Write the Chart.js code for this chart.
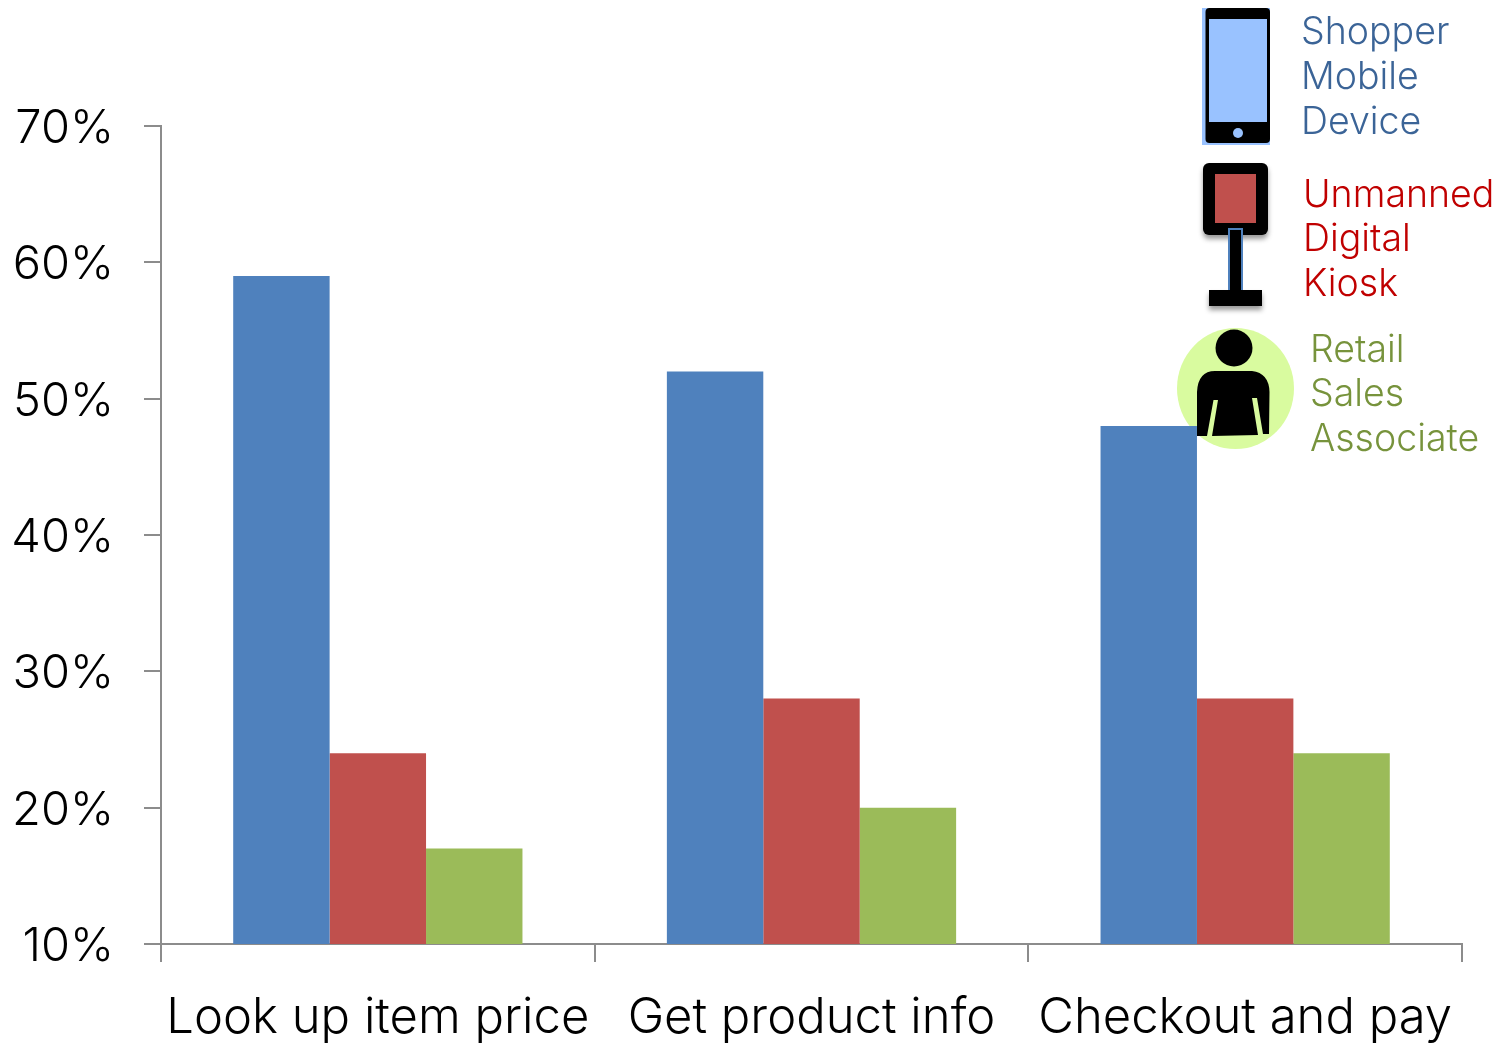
<!DOCTYPE html>
<html>
<head>
<meta charset="utf-8">
<title>Retail tasks</title>
<script src="https://cdn.jsdelivr.net/npm/chart.js@4"></script>
<style>
	html, body { margin: 0; padding: 0; background: #fff; overflow: hidden; }
	#wrap { position: relative; width: 1502px; height: 1043px; }
	#wrap svg, #wrap canvas { position: absolute; left: 0; top: 0; }
	#back { z-index: 1; }
	#chart { z-index: 2; }
	#front { z-index: 3; }
	text { font-family: Inter, sans-serif; font-size: 37.5px; font-weight: 350; }
</style>
</head>
<body>
<div id="wrap">
	<svg id="back" width="1502" height="1043">
		<ellipse cx="1235.5" cy="388.5" rx="58.5" ry="60.5" fill="#d9fb9f"/>
		<circle cx="1234" cy="348" r="18.5" fill="#000"/>
		<path d="M1197 392 Q1198 371 1215 371 L1252 371 Q1269 373 1269.5 392 L1269 434 L1263 434 L1257 398 L1252 398 L1258 435 L1212 436 L1218 400 L1213.5 400 L1207 436 L1197 436 Z" fill="#000"/>
	</svg>
	<canvas id="chart" width="1502" height="1043"></canvas>
	<svg id="front" width="1502" height="1043">
		<defs>
			<filter id="shadow" x="-20%" y="-20%" width="140%" height="140%">
				<feDropShadow dx="0" dy="4" stdDeviation="2.5" flood-color="#000" flood-opacity="0.4"/>
			</filter>
		</defs>
		<rect x="1202" y="8" width="68" height="137" fill="#99c2ff"/>
		<rect x="1205.5" y="8" width="64.5" height="135" rx="4" fill="#000"/>
		<rect x="1209" y="19" width="58" height="103" fill="#99c2ff"/>
		<circle cx="1238" cy="133" r="5" fill="#99c2ff"/>
		<g filter="url(#shadow)">
			<rect x="1203" y="163" width="65" height="72" rx="6" fill="#000"/>
			<rect x="1209" y="290" width="53" height="16" fill="#000"/>
		</g>
		<rect x="1215" y="174" width="41" height="49" fill="#c0504d"/>
		<rect x="1229" y="229" width="13" height="62" fill="#000" stroke="#4f81bd" stroke-width="2"/>
		<rect x="1209" y="290" width="53" height="16" fill="#000"/>
		<g id="legendText"></g>
	</svg>
</div>
<script>
const categories = ['Look up item price', 'Get product info', 'Checkout and pay'];
const seriesNames = ['Shopper Mobile Device', 'Unmanned Digital Kiosk', 'Retail Sales Associate'];
const mobileValues = [59, 52, 48];
const kioskValues = [24, 28, 28];
const associateValues = [17, 20, 24];
const seriesColors = ['#4f81bd', '#c0504d', '#9bbb59'];
const legendColors = ['#3b6497', '#c00000', '#77933c'];
const legendLeft = [1301, 1303, 1310];
const legendBaselines = [[44, 89, 134], [207, 251, 296], [362, 406, 451]];

const AXIS_COLOR = '#8c8c8c';

// legend is three stacked words next to each icon, not a chart.js legend
const legendGroup = document.getElementById('legendText');
seriesNames.forEach((name, key) => {
	name.split(' ').forEach((word, line) => {
		const el = document.createElementNS('http://www.w3.org/2000/svg', 'text');
		el.setAttribute('x', legendLeft[key]);
		el.setAttribute('y', legendBaselines[key][line]);
		el.setAttribute('fill', legendColors[key]);
		el.textContent = word;
		legendGroup.appendChild(el);
	});
});

// inter sits a bit high on the middle baseline, push the y labels down
const nudgeYLabels = {
	id: 'nudgeYLabels',
	beforeDraw: function(chart) {
		const items = chart.scales.y.getLabelItems();
		if(items.nudged) {
			return;
		}
		items.forEach(item => {
			item.options.translation = [item.options.translation[0], item.options.translation[1] + 3];
		});
		items.nudged = true;
	}
};

new Chart(document.getElementById('chart'), {
	type: 'bar',
	plugins: [nudgeYLabels],
	data: {
		labels: categories,
		datasets: [
			{ label: seriesNames[0], data: mobileValues, backgroundColor: seriesColors[0] },
			{ label: seriesNames[1], data: kioskValues, backgroundColor: seriesColors[1] },
			{ label: seriesNames[2], data: associateValues, backgroundColor: seriesColors[2] }
		]
	},
	options: {
		responsive: false,
		animation: { duration: 0 },
		layout: { padding: { top: 126, right: 40, bottom: 0, left: 0 } },
		datasets: { bar: { categoryPercentage: 0.667, barPercentage: 1 } },
		scales: {
			x: {
				afterFit: function(scale) { scale.height = 99; },
				border: { color: AXIS_COLOR, width: 2 },
				grid: { drawOnChartArea: false, color: AXIS_COLOR, lineWidth: 2, tickLength: 18 },
				ticks: { color: '#000', font: { family: 'Inter', size: 49, weight: '350' }, padding: 27, maxRotation: 0, autoSkip: false }
			},
			y: {
				min: 10,
				max: 70,
				afterFit: function(scale) { scale.width = 161; },
				border: { color: AXIS_COLOR, width: 2 },
				grid: { drawOnChartArea: false, color: AXIS_COLOR, lineWidth: 2, tickLength: 17 },
				ticks: {
					stepSize: 10,
					color: '#000',
					font: { family: 'Inter', size: 47, weight: '350' },
					padding: 30,
					callback: function(value) {
						return value + '%';
					}
				}
			}
		},
		plugins: {
			legend: { display: false },
			tooltip: { enabled: false }
		}
	}
});
</script>
</body>
</html>
